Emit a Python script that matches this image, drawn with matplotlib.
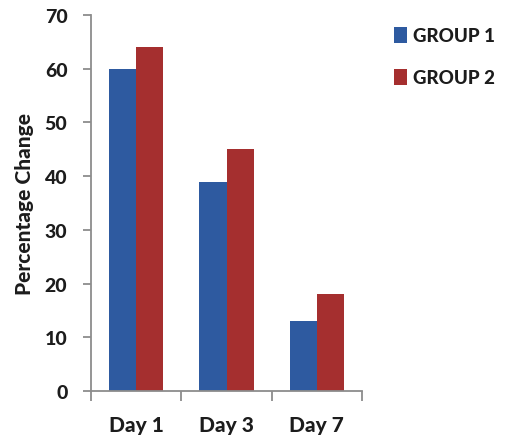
import matplotlib
matplotlib.use("Agg")
import matplotlib.pyplot as plt
import numpy as np

days = ["Day 1", "Day 3", "Day 7"]
group1 = [60, 39, 13]
group2 = [64, 45, 18]
series_names = ["GROUP 1", "GROUP 2"]
y_ticks = [0, 10, 20, 30, 40, 50, 60, 70]

blue = "#2E5AA0"
red = "#A52F2F"
axis_gray = "#8C8C8C"
text_dark = "#1C1C1C"
heavy = 900

plt.rcParams["font.family"] = ["Lato", "DejaVu Sans"]
plt.rcParams["font.weight"] = "bold"

fig = plt.figure(figsize=(5.09, 4.39), dpi=100)
ax = fig.add_axes([91 / 509, 1 - 392 / 439, 271 / 509, 376 / 439])

x = np.arange(len(days))
w = 0.3
b1 = ax.bar(x - w / 2, group1, w, color=blue, label=series_names[0])
b2 = ax.bar(x + w / 2, group2, w, color=red, label=series_names[1])

ax.set_xlim(-0.5, len(days) - 0.5)
ax.set_ylim(0, 70)

for s in ("top", "right"):
    ax.spines[s].set_visible(False)
for s in ("left", "bottom"):
    ax.spines[s].set_color(axis_gray)
    ax.spines[s].set_linewidth(1.3)

ax.set_yticks(y_ticks)
ax.tick_params(axis="y", direction="out", length=6, width=1.3, color=axis_gray,
               pad=11, labelsize=14, labelcolor=text_dark)

# category boundaries carry the tick marks, centres carry the labels
ax.set_xticks(np.arange(len(days) + 1) - 0.5)
ax.set_xticklabels([])
ax.tick_params(axis="x", which="major", direction="out", length=7, width=1.3,
               color=axis_gray)
ax.set_xticks(x, minor=True)
ax.set_xticklabels(days, minor=True)
ax.tick_params(axis="x", which="minor", length=0, pad=17, labelsize=15,
               labelcolor=text_dark)

for lbl in ax.get_xticklabels(minor=True) + ax.get_yticklabels():
    lbl.set_fontweight(heavy)

ax.set_ylabel("Percentage Change", fontsize=15, fontweight=heavy,
              color=text_dark, labelpad=8)

leg = fig.legend(handles=[b1, b2], loc="upper left",
                 bbox_to_anchor=(386 / 509, 1 - 20 / 439),
                 frameon=False, fontsize=13.5, handlelength=0.7,
                 handleheight=1.0, handletextpad=0.35, labelspacing=1.3,
                 borderaxespad=0)
for t in leg.get_texts():
    t.set_fontweight(heavy)
    t.set_color(text_dark)

fig.savefig("out.png", dpi=100)
